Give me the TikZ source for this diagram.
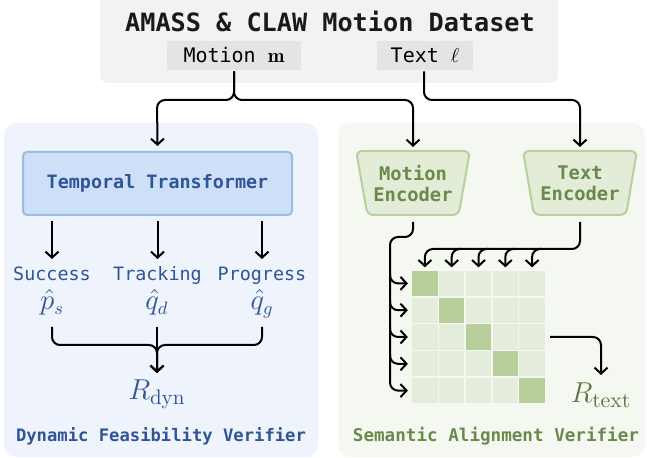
\documentclass[tikz,border=0pt]{standalone}
\usepackage{fontspec}
\setmonofont{DejaVu Sans Mono}
\usetikzlibrary{arrows.meta,shapes.geometric,calc}
\definecolor{topgray}{HTML}{F2F2F2}
\definecolor{labgray}{HTML}{E4E4E4}
\definecolor{bluepanel}{HTML}{EEF3FC}
\definecolor{ttfill}{HTML}{CEDFF8}
\definecolor{ttborder}{HTML}{9CBCE8}
\definecolor{blueT}{HTML}{2F5597}
\definecolor{greenpanel}{HTML}{F5F8F1}
\definecolor{encfill}{HTML}{E2ECD7}
\definecolor{encborder}{HTML}{B8CF9E}
\definecolor{greenT}{HTML}{6A8A4C}
\definecolor{cellG}{HTML}{E4ECDB}
\definecolor{diagG}{HTML}{B9CF9B}
\tikzset{
  line/.style={draw=black, line width=1pt, rounded corners=4pt},
  conn/.style={line, -{Straight Barb[length=3pt,width=6.5pt]}},
  lbl/.style={font=\ttfamily\fontsize{10}{12}\selectfont, fill=labgray, minimum height=14.5pt, inner sep=0pt},
  enc/.style={trapezium, trapezium stretches=true, trapezium left angle=105, trapezium right angle=105,
    minimum width=57pt, minimum height=32pt, draw=encborder, fill=encfill, line width=1pt, rounded corners=3pt,
    align=center, text=greenT, font=\ttfamily\bfseries\fontsize{9.4}{10.5}\selectfont, inner sep=0pt},
  outlbl/.style={font=\ttfamily\fontsize{9.2}{11}\selectfont, text=blueT, inner sep=0pt, anchor=base},
  mathlbl/.style={font=\fontsize{13.5}{15}\selectfont, text=blueT, inner sep=0pt, anchor=base},
  cell/.style={minimum size=12.65pt, inner sep=0pt},
}
\begin{document}
\begin{tikzpicture}[x=0.5pt,y=-0.5pt]
\useasboundingbox (0,0) rectangle (647,458);
\clip (0,0) rectangle (647,458);
% top box
\fill[topgray, rounded corners=4pt] (100,-10) rectangle (558,83);
\node[font=\ttfamily\bfseries\fontsize{12.6}{15}\selectfont, text=black!90] (title) at (330,21) {AMASS \& CLAW Motion Dataset};
\node[lbl, minimum width=67pt] (mot) at (234,55.5) {Motion $\mathbf{m}$};
\node[lbl, minimum width=48pt] (txt) at (425,55.5) {Text $\ell$};
% panels
\fill[bluepanel, rounded corners=6pt] (4,123) rectangle (318,457);
\fill[greenpanel, rounded corners=6pt] (338,123) rectangle (645,457);
% left panel
\node[draw=ttborder, fill=ttfill, line width=1pt, rounded corners=2pt, minimum width=134.5pt, minimum height=31.5pt,
  font=\ttfamily\bfseries\fontsize{9.2}{11}\selectfont, text=blueT] (tt) at (157.5,183.5) {Temporal Transformer};
\node[outlbl] (s1) at (52,281) {Success};
\node[outlbl] (s2) at (157.5,281) {Tracking};
\node[outlbl] (s3) at (262,281) {Progress};
\node[mathlbl] (p1) at (52,310) {$\hat{p}_s$};
\node[mathlbl] (p2) at (157,310) {$\hat{q}_d$};
\node[mathlbl] (p3) at (262,310) {$\hat{q}_g$};
\node[font=\fontsize{15}{17}\selectfont, text=blueT, inner sep=0pt, anchor=base] (rd) at (157,400) {$R_{\mathrm{dyn}}$};
\node[font=\ttfamily\bfseries\fontsize{8.6}{10}\selectfont, text=blueT] (dl) at (161,436) {Dynamic Feasibility Verifier};
% right panel
\node[enc] (me) at (413,183) {Motion\\Encoder};
\node[enc] (te) at (580,183) {Text\\Encoder};
\foreach \i in {1,...,5}{\foreach \j in {1,...,5}{
  \ifnum\i=\j\def\cc{diagG}\else\def\cc{cellG}\fi
  \node[cell, fill=\cc] (c\i\j) at ({424.9+26.8*(\j-1)},{283.4+26.8*(\i-1)}) {};
}}
\node[font=\fontsize{15.5}{17}\selectfont, text=greenT!85!black, inner sep=0pt, anchor=base] (rt) at (601,403) {$R_{\mathrm{text}}$};
\node[font=\ttfamily\bfseries\fontsize{8.8}{10}\selectfont, text=greenT] (sl) at (496,436) {Semantic Alignment Verifier};
% coordinates
\coordinate (jl) at (157,100);
\coordinate (jr) at (413,100);
\coordinate (jt) at (580,100);
\coordinate (bj) at (157,345);
\coordinate (mk) at (390,237);
\coordinate (tj) at (0,249);
% top connectors
\draw[conn] ($(mot.south)+(0,1)$) |- (jl) -- ($(tt.north)+(0,-5)$);
\draw[conn] ($(mot.south)+(0,1)$) |- (jr) -- ($(me.north)+(0,-3)$);
\draw[conn] ($(txt.south)+(-1,1)$) |- (jt) -- ($(te.north)+(0,-3)$);
% transformer outputs
\foreach \k in {1,2,3}{
  \draw[conn] ($(tt.south -| s\k)+(0,5)$) -- ($(s\k.base)+(0,-22)$);
}
\draw[conn] ($(p1.base)+(0,17)$) |- (bj) -- ($(rd.base)+(0,-27)$);
\draw[conn] ($(p3.base)+(0,17)$) |- (bj) -- ($(rd.base)+(0,-27)$);
\draw[conn] ($(p2.base)+(0,17)$) -- ($(rd.base)+(0,-27)$);
% motion encoder to rows
\draw[conn] ($(me.south)+(0,6)$) |- (mk) -- (mk |- c51.west) -- ($(c51.west)+(-4,0)$);
\foreach \i in {1,...,4}{
  \draw[conn] ($(mk |- c\i1.west)+(0,-10)$) -- (mk |- c\i1.west) -- ($(c\i1.west)+(-4,0)$);
}
% text encoder to columns
\draw[conn] ($(te.south)+(0,6)$) |- (c11.north |- tj) -- ($(c11.north)+(0,-3)$);
\foreach \j in {2,...,5}{
  \draw[conn] ($(c1\j.north |- tj)+(10,0)$) -- (c1\j.north |- tj) -- ($(c1\j.north)+(0,-3)$);
}
% output
\draw[conn] ($(c35.east)+(5,0)$) -| ($(rt.base)+(0,-28)$);
\end{tikzpicture}
\end{document}
